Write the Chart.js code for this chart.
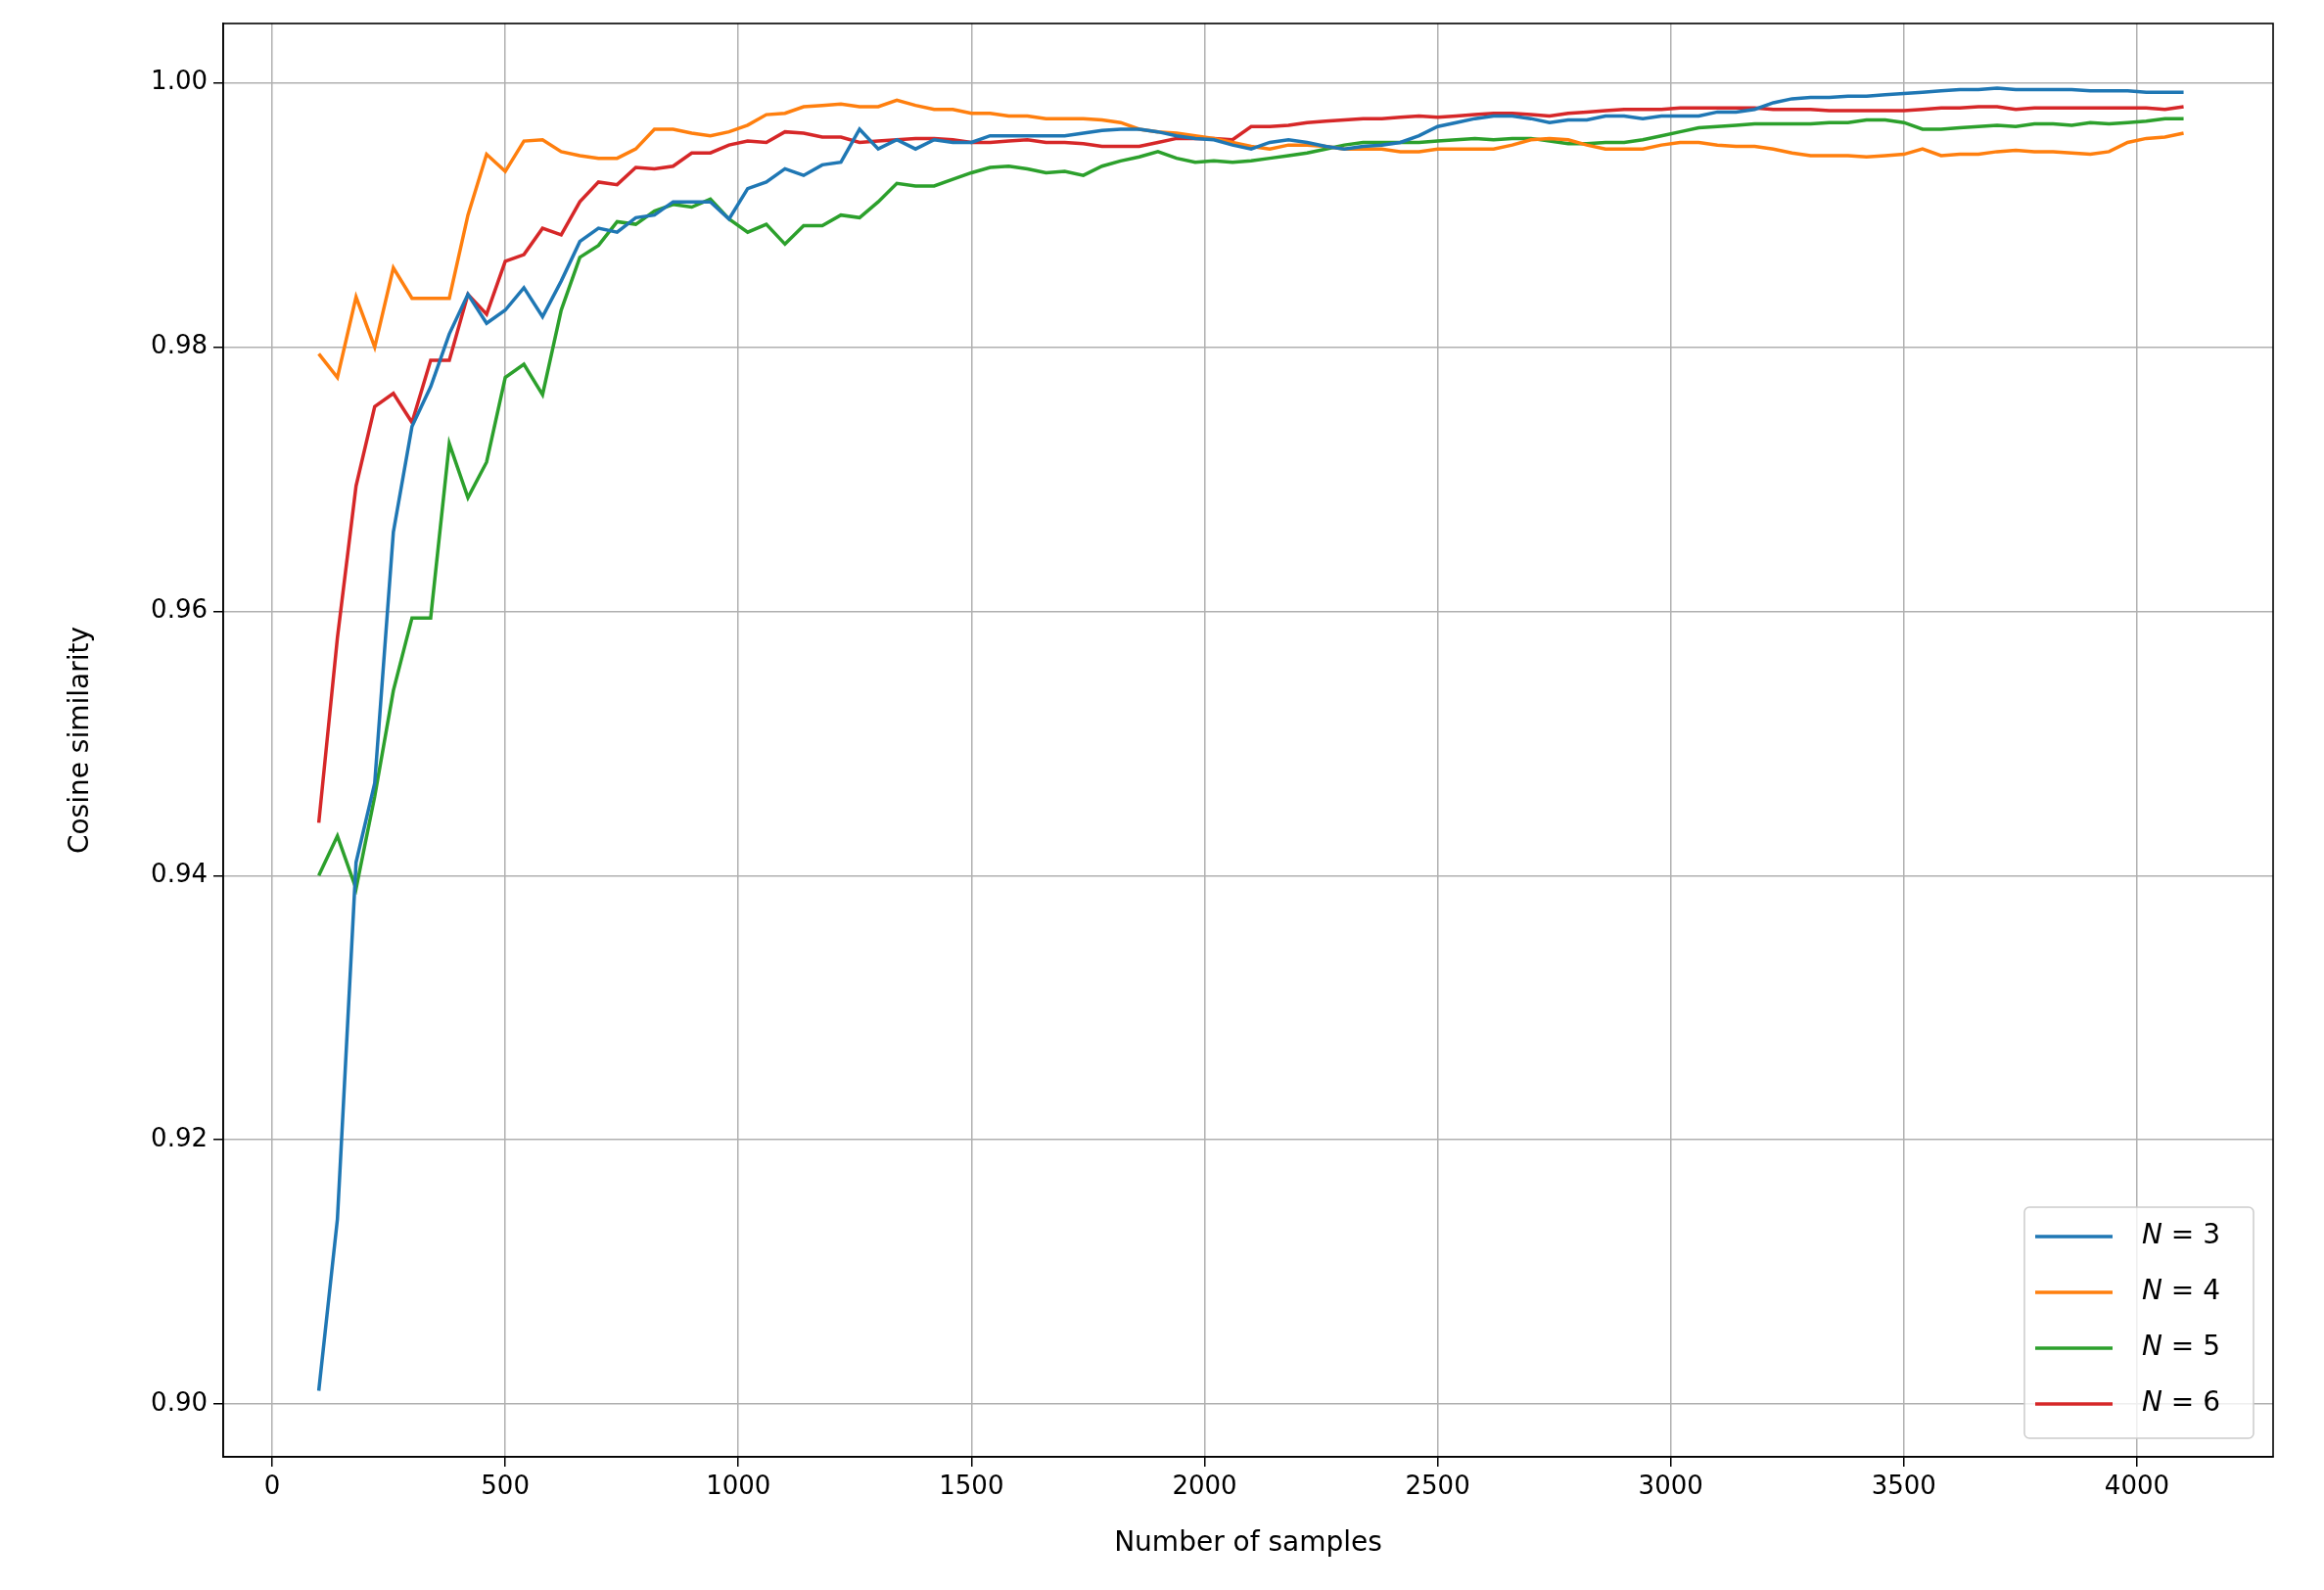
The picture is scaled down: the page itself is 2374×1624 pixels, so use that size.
<!DOCTYPE html>
<html>
<head>
<meta charset="utf-8">
<script src="https://cdn.jsdelivr.net/npm/chart.js@4/dist/chart.umd.min.js"></script>
<style>
html, body { margin: 0; padding: 0; background: white; }
#wrap { width: 2374px; height: 1624px; }
</style>
</head>
<body>
<div id="wrap"><canvas id="cosChart"></canvas></div>
<script>
var samples = [
    100, 140, 180, 220, 260, 300, 340, 380, 420, 460,
    500, 540, 580, 620, 660, 700, 740, 780, 820, 860,
    900, 940, 980, 1020, 1060, 1100, 1140, 1180, 1220, 1260,
    1300, 1340, 1380, 1420, 1460, 1500, 1540, 1580, 1620, 1660,
    1700, 1740, 1780, 1820, 1860, 1900, 1940, 1980, 2020, 2060,
    2100, 2140, 2180, 2220, 2260, 2300, 2340, 2380, 2420, 2460,
    2500, 2540, 2580, 2620, 2660, 2700, 2740, 2780, 2820, 2860,
    2900, 2940, 2980, 3020, 3060, 3100, 3140, 3180, 3220, 3260,
    3300, 3340, 3380, 3420, 3460, 3500, 3540, 3580, 3620, 3660,
    3700, 3740, 3780, 3820, 3860, 3900, 3940, 3980, 4020, 4060,
    4100
];

var n3 = [
    0.901, 0.914, 0.941, 0.947, 0.966, 0.974, 0.977, 0.981, 0.984, 0.9818,
    0.9828, 0.9845, 0.9823, 0.985, 0.988, 0.989, 0.9887, 0.9898, 0.990, 0.991,
    0.991, 0.991, 0.9897, 0.992, 0.9925, 0.9935, 0.993, 0.9938, 0.994, 0.9965,
    0.995, 0.9957, 0.995, 0.9957, 0.9955, 0.9955, 0.996, 0.996, 0.996, 0.996,
    0.996, 0.9962, 0.9964, 0.9965, 0.9965, 0.9963, 0.996, 0.9958, 0.9957, 0.9953,
    0.995, 0.9955, 0.9957, 0.9955, 0.9952, 0.995, 0.9952, 0.9953, 0.9955, 0.996,
    0.9967, 0.997, 0.9973, 0.9975, 0.9975, 0.9973, 0.997, 0.9972, 0.9972, 0.9975,
    0.9975, 0.9973, 0.9975, 0.9975, 0.9975, 0.9978, 0.9978, 0.998, 0.9985, 0.9988,
    0.9989, 0.9989, 0.999, 0.999, 0.9991, 0.9992, 0.9993, 0.9994, 0.9995, 0.9995,
    0.9996, 0.9995, 0.9995, 0.9995, 0.9995, 0.9994, 0.9994, 0.9994, 0.9993, 0.9993,
    0.9993
];

var n4 = [
    0.9795, 0.9777, 0.9838, 0.9800, 0.9860, 0.9837, 0.9837, 0.9837, 0.9900, 0.9946,
    0.9933, 0.9956, 0.9957, 0.9948, 0.9945, 0.9943, 0.9943, 0.9950, 0.9965, 0.9965,
    0.9962, 0.9960, 0.9963, 0.9968, 0.9976, 0.9977, 0.9982, 0.9983, 0.9984, 0.9982,
    0.9982, 0.9987, 0.9983, 0.9980, 0.9980, 0.9977, 0.9977, 0.9975, 0.9975, 0.9973,
    0.9973, 0.9973, 0.9972, 0.9970, 0.9965, 0.9963, 0.9962, 0.9960, 0.9958, 0.9955,
    0.9952, 0.9950, 0.9953, 0.9953, 0.9952, 0.9950, 0.9950, 0.9950, 0.9948, 0.9948,
    0.9950, 0.9950, 0.9950, 0.9950, 0.9953, 0.9957, 0.9958, 0.9957, 0.9953, 0.9950,
    0.9950, 0.9950, 0.9953, 0.9955, 0.9955, 0.9953, 0.9952, 0.9952, 0.9950, 0.9947,
    0.9945, 0.9945, 0.9945, 0.9944, 0.9945, 0.9946, 0.9950, 0.9945, 0.9946, 0.9946,
    0.9948, 0.9949, 0.9948, 0.9948, 0.9947, 0.9946, 0.9948, 0.9955, 0.9958, 0.9959,
    0.9962
];

var n5 = [
    0.940, 0.943, 0.939, 0.946, 0.954, 0.9595, 0.9595, 0.9727, 0.9686, 0.9713,
    0.9777, 0.9787, 0.9764, 0.9828, 0.9868, 0.9877, 0.9895, 0.9893, 0.9903, 0.9908,
    0.9906, 0.9912, 0.9897, 0.9887, 0.9893, 0.9878, 0.9892, 0.9892, 0.9900, 0.9898,
    0.9910, 0.9924, 0.9922, 0.9922, 0.9927, 0.9932, 0.9936, 0.9937, 0.9935, 0.9932,
    0.9933, 0.9930, 0.9937, 0.9941, 0.9944, 0.9948, 0.9943, 0.9940, 0.9941, 0.9940,
    0.9941, 0.9943, 0.9945, 0.9947, 0.9950, 0.9953, 0.9955, 0.9955, 0.9955, 0.9955,
    0.9956, 0.9957, 0.9958, 0.9957, 0.9958, 0.9958, 0.9956, 0.9954, 0.9954, 0.9955,
    0.9955, 0.9957, 0.9960, 0.9963, 0.9966, 0.9967, 0.9968, 0.9969, 0.9969, 0.9969,
    0.9969, 0.9970, 0.9970, 0.9972, 0.9972, 0.9970, 0.9965, 0.9965, 0.9966, 0.9967,
    0.9968, 0.9967, 0.9969, 0.9969, 0.9968, 0.9970, 0.9969, 0.9970, 0.9971, 0.9973,
    0.9973
];

var n6 = [
    0.944, 0.958, 0.9695, 0.9755, 0.9765, 0.9743, 0.9790, 0.9790, 0.9840, 0.9825,
    0.9865, 0.9870, 0.9890, 0.9885, 0.9910, 0.9925, 0.9923, 0.9936, 0.9935, 0.9937,
    0.9947, 0.9947, 0.9953, 0.9956, 0.9955, 0.9963, 0.9962, 0.9959, 0.9959, 0.9955,
    0.9956, 0.9957, 0.9958, 0.9958, 0.9957, 0.9955, 0.9955, 0.9956, 0.9957, 0.9955,
    0.9955, 0.9954, 0.9952, 0.9952, 0.9952, 0.9955, 0.9958, 0.9958, 0.9958, 0.9957,
    0.9967, 0.9967, 0.9968, 0.9970, 0.9971, 0.9972, 0.9973, 0.9973, 0.9974, 0.9975,
    0.9974, 0.9975, 0.9976, 0.9977, 0.9977, 0.9976, 0.9975, 0.9977, 0.9978, 0.9979,
    0.9980, 0.9980, 0.9980, 0.9981, 0.9981, 0.9981, 0.9981, 0.9981, 0.9980, 0.9980,
    0.9980, 0.9979, 0.9979, 0.9979, 0.9979, 0.9979, 0.9980, 0.9981, 0.9981, 0.9982,
    0.9982, 0.9980, 0.9981, 0.9981, 0.9981, 0.9981, 0.9981, 0.9981, 0.9981, 0.9980,
    0.9982
];

var xTicks = [0, 500, 1000, 1500, 2000, 2500, 3000, 3500, 4000];
var yTicks = [0.90, 0.92, 0.94, 0.96, 0.98, 1.00];
var seriesNames = ["3", "4", "5", "6"];
var seriesColors = ["#1f77b4", "#ff7f0e", "#2ca02c", "#d62728"];

function pairs(ys) {
    return samples.map(function (s, i) { return {x: s, y: ys[i]}; });
}

var FONT = "'DejaVu Sans', sans-serif";
Chart.defaults.font.family = FONT;
Chart.defaults.font.size = 26;
Chart.defaults.color = "#000";

// frame around plot + legend box in the lower right, like matplotlib
var framePlugin = {
    id: "frame",
    afterDraw: function (chart) {
        var ctx = chart.ctx, a = chart.chartArea;
        ctx.save();
        ctx.strokeStyle = "#000";
        ctx.lineWidth = 1.6;
        ctx.strokeRect(a.left, a.top, a.right - a.left, a.bottom - a.top);

        var bx = a.right - 254, by = a.bottom - 255, bw = 234, bh = 236;
        ctx.fillStyle = "rgba(255,255,255,0.8)";
        ctx.strokeStyle = "#cccccc";
        ctx.lineWidth = 1.5;
        ctx.beginPath();
        ctx.roundRect(bx, by, bw, bh, 5);
        ctx.fill();
        ctx.stroke();

        chart.data.datasets.forEach(function (ds, i) {
            var y = by + 30 + i * 57;
            ctx.strokeStyle = ds.borderColor;
            ctx.lineWidth = 3.5;
            ctx.beginPath();
            ctx.moveTo(bx + 11, y);
            ctx.lineTo(bx + 90, y);
            ctx.stroke();
            ctx.fillStyle = "#000";
            ctx.textBaseline = "middle";
            ctx.font = "italic 28px " + FONT;
            ctx.fillText("N", bx + 120, y);
            var w = ctx.measureText("N").width;
            ctx.font = "28px " + FONT;
            ctx.fillText(" = " + seriesNames[i], bx + 120 + w, y);
        });
        ctx.restore();
    }
};

new Chart(document.querySelector("#cosChart"), {
    type: "line",
    data: {
        datasets: seriesNames.map(function (n, i) {
            return {
                label: "N = " + n,
                data: pairs([n3, n4, n5, n6][i]),
                borderColor: seriesColors[i],
                borderWidth: 3.5,
                pointRadius: 0,
                fill: false,
                tension: 0
            };
        })
    },
    options: {
        responsive: true,
        maintainAspectRatio: false,
        animation: false,
        layout: {padding: {top: 24, right: 52, left: 62, bottom: 26}},
        plugins: {
            legend: {display: false},
            tooltip: {enabled: false}
        },
        scales: {
            x: {
                type: "linear",
                min: -105,
                max: 4292,
                afterBuildTicks: function (axis) {
                    axis.ticks = xTicks.map(function (v) { return {value: v}; });
                },
                afterFit: function (axis) { axis.height = 110; },
                ticks: {
                    padding: 6,
                    font: {size: 26},
                    callback: function (v) { return String(v); }
                },
                grid: {color: "#b0b0b0", lineWidth: 1.5, tickLength: 10, tickColor: "#000"},
                border: {color: "#000", width: 1.6},
                title: {display: true, text: "Number of samples", font: {size: 28}, padding: {top: 2}}
            },
            y: {
                min: 0.896,
                max: 1.0045,
                afterBuildTicks: function (axis) {
                    axis.ticks = yTicks.map(function (v) { return {value: v}; });
                },
                afterFit: function (axis) { axis.width = 166; },
                ticks: {
                    padding: 6,
                    font: {size: 26},
                    callback: function (v) { return Number(v).toFixed(2); }
                },
                grid: {color: "#b0b0b0", lineWidth: 1.5, tickLength: 10, tickColor: "#000"},
                border: {color: "#000", width: 1.6},
                title: {display: true, text: "Cosine similarity", font: {size: 28}, padding: {bottom: 8}}
            }
        }
    },
    plugins: [framePlugin]
});
</script>
</body>
</html>
